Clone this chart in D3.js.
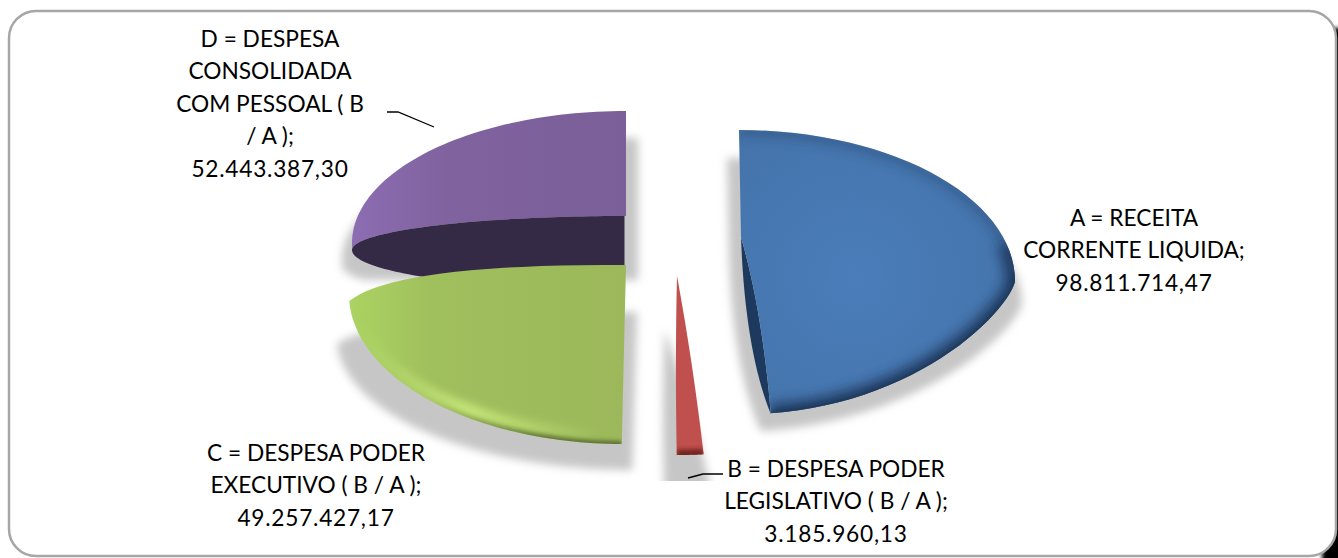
<!DOCTYPE html>
<html>
<head>
<meta charset="utf-8">
<script src="https://cdnjs.cloudflare.com/ajax/libs/d3/7.8.5/d3.min.js"></script>
<style>
  html, body { margin: 0; padding: 0; background: #fff; }
  svg { display: block; }
  text { font-family: Lato, "Open Sans", sans-serif; font-size: 22.7px; fill: #000; text-anchor: middle; }
</style>
</head>
<body>
<div id="chart"></div>
<script>
var categories = ["A = RECEITA CORRENTE LIQUIDA", "B = DESPESA PODER LEGISLATIVO ( B / A )",
                  "C = DESPESA PODER EXECUTIVO ( B / A )", "D = DESPESA CONSOLIDADA COM PESSOAL ( B / A )"];
var values = [98811714.47, 3185960.13, 49257427.17, 52443387.30];
var labelLines = [
    ["A = RECEITA", "CORRENTE LIQUIDA;", "98.811.714,47"],
    ["B = DESPESA PODER", "LEGISLATIVO ( B / A );", "3.185.960,13"],
    ["C = DESPESA PODER", "EXECUTIVO ( B / A );", "49.257.427,17"],
    ["D = DESPESA", "CONSOLIDADA", "COM PESSOAL ( B", "/ A );", "52.443.387,30"]
];

var width = 1338, height = 558;

// how each exploded slice lands on the page (the picture is a tilted 3d pie)
var geo = [
    {cx: 739, cy: 281, rx: 276, up: 151, down: 133, pDown: 1.5, sh: 6,
     apex: [741, 237], ctrl: [762, 310], wall: [745, 350], close: [739, 130], shadow: [727, 1022, 158, 432]},
    {cx: 676, cy: 300, rx: 274, up: 155, down: 155, pDown: 1, sh: 2,
     apex: [677, 276], ctrl: [675, 360], back: [693, 363], shadow: [663, 712, 330, 495]},
    {cx: 623, cy: 294, rx: 274, up: 150, down: 150, pDown: 1, sh: 0,
     apex: [626, 265], ctrl: [395, 264], shadow: [337, 637, 312, 470]},
    {cx: 626, cy: 243, rx: 274, up: 132, down: 132, pDown: 1, sh: 0,
     apex: [626, 216], shadow: [342, 638, 138, 280]}
];

var svg = d3.select("#chart").append("svg")
    .attr("width", width)
    .attr("height", height);

var defs = svg.append("defs");

function blur(id, sd) {
    defs.append("filter").attr("id", id)
        .attr("filterUnits", "userSpaceOnUse")
        .attr("x", 0).attr("y", 0).attr("width", width).attr("height", height)
        .append("feGaussianBlur").attr("stdDeviation", sd);
}
blur("soft4", 4);
blur("soft2", 2);
blur("soft6", 6);

function gradient(id, stops, x2, y2) {
    var g = defs.append("linearGradient").attr("id", id)
        .attr("x1", 0).attr("y1", 0).attr("x2", x2).attr("y2", y2);
    stops.forEach(function(s) {
        g.append("stop").attr("offset", s[0]).attr("stop-color", s[1]);
    });
}
gradient("greenFill", [[0, "#abd362"], [0.3, "#a0bf5d"], [1, "#9cb85a"]], 1, 0);
gradient("purpleFill", [[0, "#8c6db2"], [0.35, "#80629f"], [1, "#7a5f98"]], 1, 0);

// stroke that fades in and out along x, for the light and dark edge of the green slice
function fade(id, x1, x2, color, stops) {
    var g = defs.append("linearGradient").attr("id", id)
        .attr("gradientUnits", "userSpaceOnUse")
        .attr("x1", x1).attr("y1", 0).attr("x2", x2).attr("y2", 0);
    stops.forEach(function(s) {
        g.append("stop").attr("offset", s[0]).attr("stop-color", color).attr("stop-opacity", s[1]);
    });
}
fade("greenLight", 360, 600, "#cdf07f", [[0, 0], [0.45, 1], [1, 0]]);
fade("greenDark", 430, 626, "#56692f", [[0, 0], [0.6, 0.9], [1, 1]]);

var blueGlow = defs.append("radialGradient").attr("id", "blueFill")
    .attr("cx", 0.42).attr("cy", 0.52).attr("r", 0.6);
blueGlow.append("stop").attr("offset", 0).attr("stop-color", "#4a7dba");
blueGlow.append("stop").attr("offset", 1).attr("stop-color", "#4574ab");

var line = d3.line();
var pie = d3.pie().sort(null);
var arcs = pie(values);

function point(g, a) {
    var s = Math.sin(a), c = Math.cos(a);
    if (c >= 0) return [g.cx + g.rx * s, g.cy - g.up * c];
    var k = Math.pow(-c, g.pDown);
    return [g.cx + g.rx * s + g.sh * k, g.cy + g.down * k];
}

function rim(g, d) {
    return d3.range(0, 61).map(function(i) {
        return point(g, d.startAngle + (d.endAngle - d.startAngle) * i / 60);
    });
}

function quad(p0, c, p1) {
    return d3.range(1, 21).map(function(i) {
        var t = i / 20, u = 1 - t;
        return [u * u * p0[0] + 2 * u * t * c[0] + t * t * p1[0],
                u * u * p0[1] + 2 * u * t * c[1] + t * t * p1[1]];
    });
}

function inner(g, d) {
    return rim({cx: g.cx, cy: 250, rx: g.rx, up: 34, down: 34, pDown: 1, sh: 0}, d);
}

// frame: dark edge behind the right side, then the white card
svg.append("rect")
    .attr("x", 1322).attr("y", 28).attr("width", 40).attr("height", 560)
    .attr("fill", "#000").attr("filter", "url(#soft2)");
svg.append("rect")
    .attr("x", 9).attr("y", 11).attr("width", 1327).attr("height", 545)
    .attr("rx", 27).attr("ry", 27)
    .attr("fill", "#fff").attr("stroke", "#a6a6a6").attr("stroke-width", 2.5);

// outlines
var outlines = arcs.map(function(d, i) {
    var g = geo[i], r = rim(g, d), pts;
    if (i === 3) {
        pts = r.concat(inner(g, d).reverse());
    } else {
        pts = r.concat(quad(r[r.length - 1], g.ctrl, g.apex));
    }
    if (g.close) pts.push(g.close);
    if (g.back) pts = pts.concat(quad(g.apex, g.back, r[0]));
    return pts;
});

var purpleArc = arcs[3];
var darkLower = rim({cx: geo[3].cx, cy: 250, rx: geo[3].rx, up: -40, down: 34, pDown: 1, sh: 0}, purpleArc);
var darkPts = inner(geo[3], purpleArc).concat(darkLower.slice().reverse()).map(function(p) {
    return [Math.min(p[0], geo[3].cx - 1.5), p[1]];
});

// blue side wall goes under the face
var blueRim = rim(geo[0], arcs[0]);
var blueEnd = blueRim[blueRim.length - 1];
var blueWall = quad(geo[0].apex, geo[0].wall, [blueEnd[0], blueEnd[1] + 1]);

// shadows, same outlines squeezed into the box they cast on the card
var shadows = svg.append("g");
arcs.forEach(function(d, i) {
    var g = geo[i], pts = outlines[i];
    if (i === 3) {
        pts = rim(g, d).concat(darkLower.slice().reverse()).map(function(p) {
            return [p[0], Math.min(p[1], g.apex[1] + 49)];
        });
    }
    if (i === 0) {
        pts = blueRim.concat(blueWall.slice().reverse(), [g.apex, g.close]);
    }
    var sx = d3.scaleLinear().domain(d3.extent(pts, function(p) { return p[0]; })).range([g.shadow[0], g.shadow[1]]);
    var sy = d3.scaleLinear().domain(d3.extent(pts, function(p) { return p[1]; })).range([g.shadow[2], g.shadow[3]]);
    var clipId = "shadowClip" + i;
    defs.append("clipPath").attr("id", clipId).append("rect")
        .attr("x", 0).attr("y", 0).attr("width", width).attr("height", i === 1 ? 481 : height);
    shadows.append("g").attr("clip-path", "url(#" + clipId + ")")
        .append("path")
        .attr("d", line(pts.map(function(p) { return [sx(p[0]), sy(p[1])]; })) + "Z")
        .attr("fill", "#c6c6c6")
        .attr("filter", "url(#soft4)");
});

// back slice
var slices = svg.append("g");
slices.append("path").attr("d", line(outlines[3]) + "Z").attr("fill", "url(#purpleFill)");
slices.append("path").attr("d", line(darkPts) + "Z").attr("fill", "#352a45");

function bevel(i, fill, layers) {
    var id = "sliceClip" + i;
    defs.append("clipPath").attr("id", id).append("path").attr("d", line(outlines[i]) + "Z");
    slices.append("path").attr("d", line(outlines[i]) + "Z").attr("fill", fill);
    var clipped = slices.append("g").attr("clip-path", "url(#" + id + ")");
    layers.forEach(function(l) {
        clipped.append("path")
            .attr("d", line(l.pts || rim(geo[i], arcs[i])))
            .attr("fill", "none")
            .attr("stroke", l.color)
            .attr("stroke-width", l.w)
            .attr("stroke-opacity", l.o)
            .attr("filter", "url(#" + l.f + ")");
    });
}

var greenRim = rim(geo[2], arcs[2]);
bevel(2, "url(#greenFill)", [
    {color: "url(#greenLight)", w: 12, o: 0.85, f: "soft4", pts: greenRim.map(function(p) { return [p[0], p[1] - 8]; })},
    {color: "url(#greenDark)", w: 6, o: 1, f: "soft2", pts: greenRim}
]);

bevel(1, "#c0504d", [
    {color: "#6f2220", w: 11, o: 0.95, f: "soft2"}
]);

slices.append("path")
    .attr("d", line([geo[0].apex].concat(blueWall, quad(blueEnd, geo[0].ctrl, geo[0].apex))) + "Z")
    .attr("fill", "#1d3a5e");
bevel(0, "url(#blueFill)", [
    {color: "#24466f", w: 14, o: 0.4, f: "soft6", pts: blueRim.slice(0, 32)},
    {color: "#1c3a5f", w: 20, o: 0.85, f: "soft6", pts: blueRim.slice(26)},
    {color: "#1c3552", w: 5, o: 0.8, f: "soft2", pts: blueRim.slice(30)}
]);

// leader lines, anchored on the labels they belong to
var leaderD = [[387, 112], [398, 112], [434, 127]];
var leaderB = [[688, 478], [703, 474], [723, 474]];
[leaderD, leaderB].forEach(function(l) {
    svg.append("path").attr("d", line(l)).attr("fill", "none")
        .attr("stroke", "#000").attr("stroke-width", 1.3);
});

// labels
var labelPos = [{x: 1134, y: 226}, {x: 836, y: 477}, {x: 316, y: 461}, {x: 270, y: 47}];
var rowStep = 32.4;
svg.selectAll("text.label")
    .data(labelLines)
    .enter()
    .append("text")
    .attr("class", "label")
    .attr("aria-label", function(d, i) { return categories[i]; })
    .each(function(rows, i) {
        d3.select(this).selectAll("tspan")
            .data(rows)
            .enter()
            .append("tspan")
            .attr("x", labelPos[i].x)
            .attr("y", function(r, j) { return labelPos[i].y + j * rowStep; })
            .attr("letter-spacing", function(r) { return /^[0-9.,]+$/.test(r) ? 0.75 : null; })
            .text(function(r) { return r; });
    });
</script>
</body>
</html>
